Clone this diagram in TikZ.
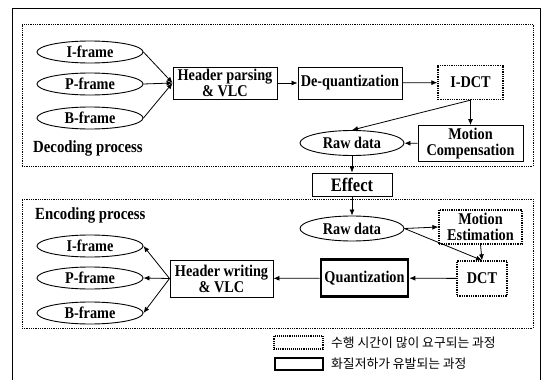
\documentclass[tikz,border=0pt]{standalone}
\usepackage{fontspec}
\newfontfamily\lbl[FakeStretch=0.87]{Liberation Serif}
\newfontfamily\kor{Noto Sans CJK KR}
\usetikzlibrary{shapes.geometric,arrows.meta}
\begin{document}
\begin{tikzpicture}[x=1pt,y=-1pt,
  txt/.style={font=\lbl\bfseries\fontsize{16.4}{16}\selectfont, align=center},
  frame/.style={ellipse, draw, line width=0.9pt, minimum width=106pt, minimum height=22pt, inner sep=0pt, txt},
  raw/.style={ellipse, draw, line width=0.9pt, minimum width=104pt, minimum height=25pt, inner sep=0pt, txt},
  box/.style={rectangle, draw, line width=0.9pt, inner sep=0pt, txt},
  hot/.style={rectangle, draw, densely dotted, line width=1.3pt, inner sep=0pt, txt},
  heavy/.style={rectangle, draw, line width=2.6pt, inner sep=0pt, txt},
  region/.style={rectangle, draw, densely dotted, line width=0.8pt, inner sep=0pt},
  arr/.style={-{Latex[length=6pt,width=5pt]}, line width=0.8pt},
  kt/.style={font=\kor\fontsize{12.8}{12.8}\selectfont, anchor=west, inner sep=0pt}
]
\useasboundingbox (0,0) rectangle (547,380);
% outer frame
\draw[line width=0.8pt] (12.5,380) -- (12.5,8) -- (540,8) -- (540,380);
% regions
\node[region, minimum width=511pt, minimum height=142pt] (decreg) at (277.5,95) {};
\node[region, minimum width=511pt, minimum height=129pt] (encreg) at (277.5,263.5) {};
\node[txt, anchor=west, inner sep=0pt, font=\lbl\bfseries\fontsize{17}{16}\selectfont] (declab) at (33,148) {Decoding process};
\node[txt, anchor=west, inner sep=0pt, font=\lbl\bfseries\fontsize{17}{16}\selectfont] (enclab) at (35,215) {Encoding process};
% decoding
\node[frame] (di) at (90,52) {I-frame};
\node[frame] (dp) at (90,84) {P-frame};
\node[frame] (db) at (90,118) {B-frame};
\node[box, minimum width=104pt, minimum height=32pt] (hp) at (225,83) {Header parsing\\\& VLC};
\node[box, minimum width=104pt, minimum height=32pt] (dq) at (350,83) {De-quantization};
\node[hot, minimum width=65pt, minimum height=34pt] (idct) at (470.5,82.5) {I-DCT};
\node[box, minimum width=105pt, minimum height=36pt] (mc) at (470.5,143.5) {Motion\\Compensation};
\node[raw] (rd) at (352,143) {Raw data};
\node[box, minimum width=80pt, minimum height=23pt, font=\lbl\bfseries\fontsize{19}{19}\selectfont] (eff) at (352,184.5) {Effect};
% encoding
\node[raw] (re) at (352,228.5) {Raw data};
\node[hot, minimum width=83pt, minimum height=34pt] (me) at (480.5,227) {Motion\\Estimation};
\node[hot, minimum width=50pt, minimum height=35pt] (dct) at (482,278.5) {DCT};
\node[heavy, minimum width=87pt, minimum height=37pt] (qt) at (364.5,278) {Quantization};
\node[box, minimum width=103pt, minimum height=37pt] (hw) at (221.5,278.5) {Header writing\\\& VLC};
\node[frame] (ei) at (90,246) {I-frame};
\node[frame] (ep) at (90,278) {P-frame};
\node[frame] (eb) at (90,313) {B-frame};
% arrows decoding
\draw[arr] (di.east) -- (hp.west);
\draw[arr] (dp.east) -- (hp.west);
\draw[arr] (db.east) -- (hp.west);
\draw[arr] (hp) -- (dq);
\draw[arr] (dq) -- (idct);
\draw[arr] (idct.south) -- (mc.north);
\draw[arr] (idct.south) -- (rd.north);
\draw[arr] (mc) -- (rd);
\draw[arr] (rd) -- (eff);
\draw[arr] (eff) -- (re);
% arrows encoding
\draw[arr] (re.east) -- (me.west);
\draw[arr] (re.east) -- (dct.north);
\draw[arr] (me.south) -- (dct.north);
\draw[arr] (dct) -- (qt);
\draw[arr] (qt) -- (hw);
\draw[arr] (hw.west) -- (ei.east);
\draw[arr] (hw.west) -- (ep.east);
\draw[arr] (hw.west) -- (eb.east);
% legend
\node[region, line width=1.1pt, minimum width=49pt, minimum height=13pt] (lg1) at (298.5,342.5) {};
\node[rectangle, draw, line width=2.6pt, minimum width=48pt, minimum height=12pt, inner sep=0pt] (lg2) at (299,364) {};
\node[kt] (lt1) at (331,343) {수행 시간이 많이 요구되는 과정};
\node[kt] (lt2) at (331,364) {화질저하가 유발되는 과정};
\end{tikzpicture}
\end{document}
